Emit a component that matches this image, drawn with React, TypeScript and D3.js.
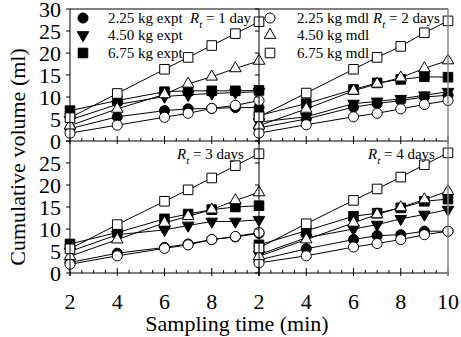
import { useEffect, useRef } from 'react'
import * as d3 from 'd3'

const W = 461
const H = 337
const FONT = '"Liberation Serif", "Times New Roman", Times, "DejaVu Serif", serif'

const TIMES = [2, 4, 6, 7, 8, 9, 10]
const RT_LABELS = ['1 day', '2 days', '3 days', '4 days']
const X_TICKS_LEFT = [2, 4, 6, 8]
const X_TICKS_RIGHT = [2, 4, 6, 8, 10]
const Y_TICKS_TOP = [0, 5, 10, 15, 20, 25, 30]
const Y_TICKS_BOTTOM = [0, 5, 10, 15, 20, 25]

// one row per retention time (1, 2, 3, 4 days)
const EXPT_225 = [
  [2.8, 5.5, 6.9, 7.3, 7.4, 7.6, 7.6],
  [3.0, 5.0, 7.7, 8.5, 9.2, 10.0, 10.4],
  [2.4, 4.5, 5.8, 6.6, 7.6, 8.2, 9.0],
  [3.0, 5.5, 7.6, 8.5, 8.7, 9.5, 9.5],
]
const EXPT_450 = [
  [4.8, 8.3, 10.1, 10.5, 10.8, 11.0, 11.2],
  [4.3, 5.5, 8.5, 9.0, 9.6, 10.4, 11.2],
  [4.9, 8.7, 9.8, 10.8, 11.7, 11.7, 12.1],
  [4.2, 8.0, 10.0, 11.0, 12.3, 13.3, 14.4],
]
const EXPT_675 = [
  [6.9, 9.2, 11.2, 11.4, 11.4, 11.4, 11.5],
  [5.8, 8.5, 11.7, 13.2, 14.0, 14.6, 14.5],
  [6.6, 9.2, 12.3, 13.4, 14.4, 15.0, 15.3],
  [6.4, 9.6, 12.9, 13.6, 14.8, 16.3, 16.8],
]
const MDL_225 = [
  [1.8, 3.6, 5.4, 6.3, 7.4, 8.1, 9.2],
  [1.8, 3.7, 5.5, 6.3, 7.3, 8.3, 9.2],
  [2.0, 3.9, 5.6, 6.4, 7.6, 8.3, 9.2],
  [2.3, 3.9, 5.9, 6.7, 7.6, 8.7, 9.5],
]
const MDL_450 = [
  [3.5, 7.3, 10.6, 13.0, 14.6, 16.5, 18.2],
  [3.5, 7.3, 11.4, 13.0, 14.4, 16.5, 18.3],
  [3.8, 7.6, 11.4, 12.9, 14.4, 16.5, 18.3],
  [3.8, 7.6, 11.4, 13.3, 14.9, 16.7, 18.6],
]
const MDL_675 = [
  [5.3, 10.8, 16.3, 19.0, 21.7, 24.4, 27.1],
  [5.5, 10.9, 16.3, 19.0, 21.5, 24.6, 27.3],
  [5.5, 11.0, 16.3, 18.9, 21.6, 24.4, 27.1],
  [5.7, 11.2, 16.5, 19.1, 21.8, 24.6, 27.3],
]

type Shape = 'circle' | 'down' | 'square' | 'up'

interface Series {
  label: string
  shape: Shape
  filled: boolean
  values: number[][]
}

const SERIES: Series[] = [
  { label: '2.25 kg expt', shape: 'circle', filled: true, values: EXPT_225 },
  { label: '4.50 kg expt', shape: 'down', filled: true, values: EXPT_450 },
  { label: '6.75 kg expt', shape: 'square', filled: true, values: EXPT_675 },
  { label: '2.25 kg mdl', shape: 'circle', filled: false, values: MDL_225 },
  { label: '4.50 kg mdl', shape: 'up', filled: false, values: MDL_450 },
  { label: '6.75 kg mdl', shape: 'square', filled: false, values: MDL_675 },
]

const LEFT = 70
const MID = 259
const RIGHT = 448
const TOP = 9
const ROW = 141
const BOTTOM = 273

const PANELS = [
  { x0: LEFT, x1: MID, y0: TOP, y1: ROW },
  { x0: MID, x1: RIGHT, y0: TOP, y1: ROW },
  { x0: LEFT, x1: MID, y0: ROW, y1: BOTTOM },
  { x0: MID, x1: RIGHT, y0: ROW, y1: BOTTOM },
]

type G = d3.Selection<SVGGElement, unknown, null, undefined>

function symbolPath(shape: Shape) {
  if (shape === 'circle') return d3.symbol(d3.symbolCircle, 80)()
  if (shape === 'square') return d3.symbol(d3.symbolSquare, 92)()
  return d3.symbol(d3.symbolTriangle, 58)()
}

function addMarker(g: G, s: Series, x: number, y: number) {
  const rot = s.shape === 'down' ? ' rotate(180)' : ''
  g.append('path')
    .attr('d', symbolPath(s.shape) as string)
    .attr('transform', `translate(${x},${y})${rot}`)
    .attr('fill', s.filled ? '#000' : '#fff')
    .attr('stroke', '#000')
    .attr('stroke-width', 1)
}

function addRt(g: G, x: number, y: number, rest: string) {
  const t = g.append('text')
    .attr('x', x)
    .attr('y', y)
    .style('font-size', '15px')
  t.append('tspan').style('font-style', 'italic').text('R')
  t.append('tspan').style('font-style', 'italic').style('font-size', '11px').attr('dy', 5).text('t')
  t.append('tspan').attr('dy', -5).text(` = ${rest}`)
}

export default function App() {
  const svgRef = useRef<SVGSVGElement>(null)

  useEffect(() => {
    if (!svgRef.current) return
    const svg = d3.select(svgRef.current)
    svg.selectAll('*').remove()
    svg.append('rect').attr('width', W).attr('height', H).attr('fill', '#fff')
    const g = svg.append('g').style('font-family', FONT).attr('fill', '#000') as unknown as G

    PANELS.forEach((p, pi) => {
      const x = d3.scaleLinear().domain([2, 10]).range([p.x0, p.x1])
      const y = d3.scaleLinear().domain([0, 30]).range([p.y1, p.y0])

      // x ticks, pointing up into the panel
      d3.range(2, 10.001, 0.5).forEach(v => {
        const major = v % 2 === 0
        g.append('line')
          .attr('x1', x(v)).attr('x2', x(v))
          .attr('y1', p.y1 - (major ? 5 : 3)).attr('y2', p.y1 + (major ? 3 : 0))
          .attr('stroke', '#000').attr('stroke-width', 1)
      })
      // y ticks, pointing left
      Y_TICKS_TOP.forEach(v => {
        g.append('line')
          .attr('x1', p.x0 - 4).attr('x2', p.x0)
          .attr('y1', y(v)).attr('y2', y(v))
          .attr('stroke', '#000').attr('stroke-width', 1)
      })

      if (pi % 2 === 0) {
        const ticks = pi === 0 ? Y_TICKS_TOP : Y_TICKS_BOTTOM
        ticks.forEach(v => {
          g.append('text')
            .attr('x', p.x0 - 9)
            .attr('y', y(v) + 7.5)
            .attr('text-anchor', 'end')
            .style('font-size', '22px')
            .text(v)
        })
      }
      if (pi >= 2) {
        const ticks = pi === 2 ? X_TICKS_LEFT : X_TICKS_RIGHT
        ticks.forEach(v => {
          g.append('text')
            .attr('x', x(v))
            .attr('y', 309)
            .attr('text-anchor', 'middle')
            .style('font-size', '22px')
            .text(v)
        })
      }

      const line = d3.line<number>()
        .x((_, i) => x(TIMES[i]))
        .y(d => y(d))

      SERIES.forEach(s => {
        const vals = s.values[pi]
        g.append('path')
          .attr('d', line(vals) as string)
          .attr('fill', 'none')
          .attr('stroke', '#000')
          .attr('stroke-width', 1)
        vals.forEach((v, i) => addMarker(g, s, x(TIMES[i]), y(v)))
      })
    })

    // frame
    const frame = [
      [LEFT, TOP, RIGHT, TOP],
      [LEFT, ROW, RIGHT, ROW],
      [LEFT, BOTTOM, RIGHT, BOTTOM],
      [LEFT, TOP, LEFT, BOTTOM + 3],
      [MID, TOP, MID, BOTTOM + 3],
    ]
    frame.forEach(([a, b, c, d]) => {
      g.append('line')
        .attr('x1', a).attr('y1', b).attr('x2', c).attr('y2', d)
        .attr('stroke', '#000').attr('stroke-width', 1)
    })
    g.append('line')
      .attr('x1', RIGHT).attr('y1', TOP).attr('x2', RIGHT).attr('y2', BOTTOM + 3)
      .attr('stroke', '#888').attr('stroke-width', 1.5)

    // legends
    const rows = [18, 35, 53]
    SERIES.forEach((s, i) => {
      const col = i < 3 ? 0 : 1
      const mx = col === 0 ? 83 : 270
      const tx = col === 0 ? 108 : 297
      const ry = rows[i % 3]
      addMarker(g, s, mx, ry)
      g.append('text')
        .attr('x', tx)
        .attr('y', ry + 5)
        .style('font-size', '15px')
        .text(s.label)
    })

    addRt(g, 190, 23, RT_LABELS[0])
    addRt(g, 373, 23, RT_LABELS[1])
    addRt(g, 177, 159, RT_LABELS[2])
    addRt(g, 368, 159, RT_LABELS[3])

    // axis titles
    g.append('text')
      .attr('x', 237)
      .attr('y', 331)
      .attr('text-anchor', 'middle')
      .style('font-size', '22px')
      .text('Sampling time (min)')

    g.append('text')
      .attr('transform', `translate(25,157) rotate(-90)`)
      .attr('text-anchor', 'middle')
      .style('font-size', '22px')
      .text('Cumulative volume (ml)')
  }, [])

  return (
    <svg
      ref={svgRef}
      width={W}
      height={H}
      style={{ position: 'absolute', left: 0, top: 0 }}
    />
  )
}
